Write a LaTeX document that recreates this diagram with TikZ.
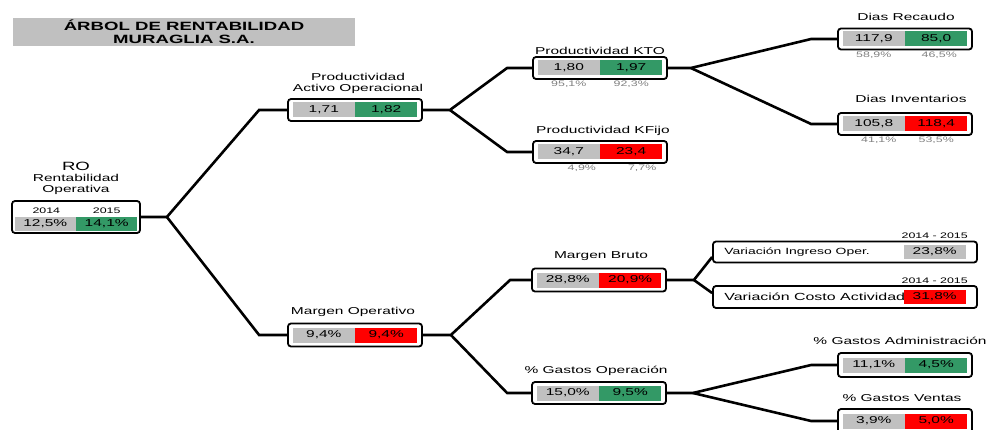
\documentclass[tikz,border=0pt]{standalone}
\usepackage{fontspec}
\setmainfont{Liberation Sans}[FakeStretch=1.55]
\usetikzlibrary{positioning}

\definecolor{gris}{RGB}{192,192,192}
\definecolor{verde}{RGB}{51,153,102}
\definecolor{rojo}{RGB}{255,0,0}
\definecolor{grisletra}{RGB}{128,128,128}

\begin{document}
\begin{tikzpicture}[
  x=1pt, y=-1pt,
  node distance=4pt,
  box/.style={rectangle, draw, line width=1.8pt, rounded corners=3pt, fill=white, minimum width=134pt, minimum height=22pt, inner sep=0pt},
  cell/.style={rectangle, inner sep=0pt, minimum width=62pt, minimum height=15pt, font=\fontsize{10}{12}\selectfont},
  lbl/.style={inner sep=0pt, align=center, font=\fontsize{10}{11}\selectfont},
  pct/.style={inner sep=0pt, text=grisletra, font=\fontsize{8}{9}\selectfont},
  yr/.style={inner sep=0pt, font=\fontsize{8}{9}\selectfont},
  line/.style={draw, line width=2.6pt}
]
\useasboundingbox (0,0) rectangle (992,430);
\clip (0,0) rectangle (992,430);

% titulo
\node[fill=gris, minimum width=342pt, minimum height=28pt, inner sep=0pt, align=center,
  font=\bfseries\fontsize{12}{13}\selectfont] (titulo) at (184,32) {ÁRBOL DE RENTABILIDAD\\MURAGLIA S.A.};

% RO
\node[box, minimum width=128pt, minimum height=32pt] (ro) at (76,217) {};
\node[cell, fill=gris, minimum width=61pt, minimum height=14pt, above left=3pt and 0pt of ro.south] (ro-a) {12,5\%};
\node[cell, fill=verde, minimum width=61pt, minimum height=14pt, above right=3pt and 0pt of ro.south] (ro-b) {14,1\%};
\node[yr, above=3pt of ro-a, xshift=1pt] {2014};
\node[yr, above=3pt of ro-b] {2015};
\node[lbl, above=5pt of ro] (ro-t) {{\fontsize{12}{13}\selectfont RO}\\Rentabilidad\\Operativa};

% productividad activo operacional
\node[box] (pao) at (355,110) {};
\node[cell, fill=gris, left=0pt of pao.center] (pao-a) {1,71};
\node[cell, fill=verde, right=0pt of pao.center] (pao-b) {1,82};
\node[lbl, above=4pt of pao, xshift=3pt] (pao-t) {Productividad\\Activo Operacional};

% productividad KTO
\node[box] (kto) at (600,68) {};
\node[cell, fill=gris, left=0pt of kto.center] (kto-a) {1,80};
\node[cell, fill=verde, right=0pt of kto.center] (kto-b) {1,97};
\node[lbl, above=1pt of kto] (kto-t) {Productividad KTO};
\node[pct, below=5pt of kto-a] {95,1\%};
\node[pct, below=5pt of kto-b] {92,3\%};

% productividad KFijo
\node[box] (kf) at (600,152) {};
\node[cell, fill=gris, left=0pt of kf.center] (kf-a) {34,7};
\node[cell, fill=rojo, right=0pt of kf.center] (kf-b) {23,4};
\node[lbl, above=4pt of kf, xshift=3pt] (kf-t) {Productividad KFijo};
\node[pct, below=5pt of kf-a, xshift=13pt] {4,9\%};
\node[pct, below=5pt of kf-b, xshift=11pt] {7,7\%};

% dias recaudo
\node[box, minimum height=21pt] (dr) at (905,39) {};
\node[cell, fill=gris, left=0pt of dr.center] (dr-a) {117,9};
\node[cell, fill=verde, right=0pt of dr.center] (dr-b) {85,0};
\node[lbl, above=7pt of dr, xshift=1pt] (dr-t) {Dias Recaudo};
\node[pct, below=5pt of dr-a] {58,9\%};
\node[pct, below=5pt of dr-b, xshift=3pt] {46,5\%};

% dias inventarios
\node[box] (di) at (905,124) {};
\node[cell, fill=gris, left=0pt of di.center] (di-a) {105,8};
\node[cell, fill=rojo, right=0pt of di.center] (di-b) {118,4};
\node[lbl, above=9pt of di, xshift=6pt] (di-t) {Dias Inventarios};
\node[pct, below=5pt of di-a, xshift=5pt] {41,1\%};
\node[pct, below=5pt of di-b] {53,5\%};

% margen operativo
\node[box, minimum height=23pt] (mo) at (355,335) {};
\node[cell, fill=gris, left=0pt of mo.center] (mo-a) {9,4\%};
\node[cell, fill=rojo, right=0pt of mo.center] (mo-b) {9,4\%};
\node[lbl, above=6pt of mo, xshift=-2pt] (mo-t) {Margen Operativo};

% margen bruto
\node[box, minimum height=23pt] (mb) at (599,280) {};
\node[cell, fill=gris, left=0pt of mb.center] (mb-a) {28,8\%};
\node[cell, fill=rojo, right=0pt of mb.center] (mb-b) {20,9\%};
\node[lbl, above=7pt of mb, xshift=2pt] (mb-t) {Margen Bruto};

% variaciones
\node[box, minimum width=264pt, minimum height=21pt] (vi) at (845,252) {};
\node[inner sep=0pt, font=\fontsize{9}{11}\selectfont, right=12pt of vi.west] (vi-t) {Variación Ingreso Oper.};
\node[cell, fill=gris, minimum height=14pt, left=12pt of vi.east] (vi-v) {23,8\%};
\node[yr, above=6pt of vi-v] {2014 - 2015};

\node[box, minimum width=264pt, minimum height=22pt] (vc) at (845,297) {};
\node[inner sep=0pt, font=\fontsize{10.3}{12}\selectfont, right=12pt of vc.west] (vc-t) {Variación Costo Actividad};
\node[cell, fill=rojo, minimum height=14pt, left=12pt of vc.east] (vc-v) {31,8\%};
\node[yr, above=6pt of vc-v] {2014 - 2015};

% gastos operacion
\node[box] (go) at (599,393) {};
\node[cell, fill=gris, left=0pt of go.center] (go-a) {15,0\%};
\node[cell, fill=verde, right=0pt of go.center] (go-b) {9,5\%};
\node[lbl, above=5pt of go, xshift=-3pt] (go-t) {\% Gastos Operación};

% gastos administracion
\node[box, minimum height=24pt] (ga) at (905,365) {};
\node[cell, fill=gris, left=0pt of ga.center] (ga-a) {11,1\%};
\node[cell, fill=verde, right=0pt of ga.center] (ga-b) {4,5\%};
\node[lbl, above=7pt of ga, xshift=-5pt] (ga-t) {\% Gastos Administración};

% gastos ventas
\node[box, minimum height=24pt] (gv) at (905,421) {};
\node[cell, fill=gris, left=0pt of gv.center] (gv-a) {3,9\%};
\node[cell, fill=rojo, right=0pt of gv.center] (gv-b) {5,0\%};
\node[lbl, above=6pt of gv, xshift=-3pt] (gv-t) {\% Gastos Ventas};

% ramas
\coordinate[right=26pt of ro.east] (f1);
\coordinate[right=27pt of pao.east] (f2);
\coordinate[right=23pt of kto.east] (f3);
\coordinate[right=28pt of mo.east] (f4);
\coordinate[right=27pt of mb.east] (f5);
\coordinate[right=26pt of go.east] (f6);

\path[line] (ro.east) -- (f1) -- ([xshift=-28pt]pao.west) -- (pao.west);
\path[line] (f1) -- ([xshift=-28pt]mo.west) -- (mo.west);

\path[line] (pao.east) -- (f2) -- ([xshift=-25pt]kto.west) -- (kto.west);
\path[line] (f2) -- ([xshift=-25pt]kf.west) -- (kf.west);

\path[line] (kto.east) -- (f3) -- ([xshift=-26pt]dr.west) -- (dr.west);
\path[line] (f3) -- ([xshift=-26pt]di.west) -- (di.west);

\path[line] (mo.east) -- (f4) -- ([xshift=-21pt]mb.west) -- (mb.west);
\path[line] (f4) -- ([xshift=-24pt]go.west) -- (go.west);

\path[line] (mb.east) -- (f5) -- ([yshift=-5pt]vi.west);
\path[line] (f5) -- ([yshift=4pt]vc.west);

\path[line] (go.east) -- (f6) -- ([xshift=-26pt]ga.west) -- (ga.west);
\path[line] (f6) -- ([xshift=-26pt]gv.west) -- (gv.west);

\end{tikzpicture}
\end{document}
